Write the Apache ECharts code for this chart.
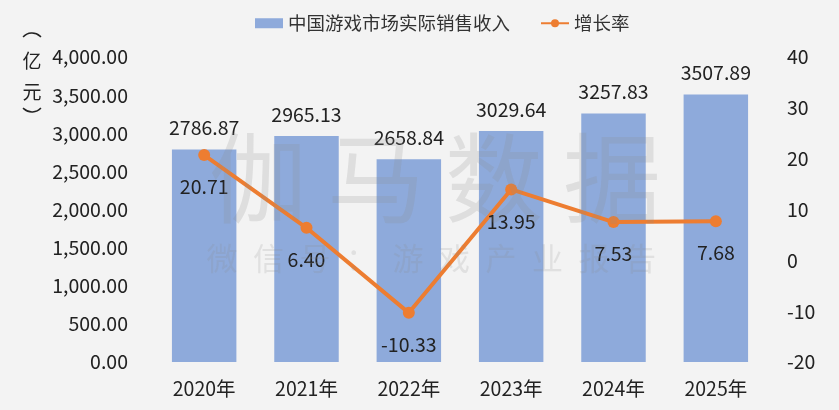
<!DOCTYPE html>
<html><head><meta charset="utf-8">
<script src="https://cdn.jsdelivr.net/npm/echarts@6/dist/echarts.min.js"></script>
<style>html,body{margin:0;padding:0;background:#f3f3f3;}#c{width:839px;height:410px;}</style>
</head><body><div id="c"></div>
<script>
const categories = ['2020年','2021年','2022年','2023年','2024年','2025年'];
const revenue = [2786.87, 2965.13, 2658.84, 3029.64, 3257.83, 3507.89];
const growth = [20.71, 6.40, -10.33, 13.95, 7.53, 7.68];
const leftTicks = {min: 0, max: 4000, interval: 500};
const rightTicks = {min: -20, max: 40, interval: 10};
const FONT = '"Noto Sans CJK SC", "Noto Sans", sans-serif';
const FS = 19.5;

const wmChars = ['伽','马','数','据'];
const wmSmall = ['微','信','号','：','游','戏','产','业','报','告'];

const deg = Math.PI / 180;
const graphics = [
  {type: 'arc', z: 10, shape: {cx: 32, cy: 45, r: 12, startAngle: 222 * deg, endAngle: 318 * deg, clockwise: true},
   style: {stroke: '#222', fill: 'none', lineWidth: 1.6}},
  {type: 'arc', z: 10, shape: {cx: 32, cy: 100, r: 12, startAngle: 42 * deg, endAngle: 138 * deg, clockwise: true},
   style: {stroke: '#222', fill: 'none', lineWidth: 1.6}}
];
[['亿',61],['元',92]].forEach(([t,y]) => graphics.push({
  type: 'text', x: 32, y: y, z: 10,
  style: {text: t, font: '19px ' + FONT, fill: '#222', align: 'center', verticalAlign: 'middle'}
}));
wmChars.forEach((t,i) => graphics.push({
  type: 'text', x: 258 + i * 118, y: 178, z: 100, silent: true,
  style: {text: t, font: '98px ' + FONT, fill: 'rgba(140,140,140,0.2)', align: 'center', verticalAlign: 'middle'}
}));
wmSmall.forEach((t,i) => graphics.push({
  type: 'text', x: 222 + i * 46.5, y: 258, z: 100, silent: true,
  style: {text: t, font: '31px ' + FONT, fill: 'rgba(140,140,140,0.18)', align: 'center', verticalAlign: 'middle'}
}));

const chart = echarts.init(document.getElementById('c'));
chart.setOption({
  backgroundColor: '#f3f3f3',
  textStyle: {fontFamily: FONT},
  legend: {
    top: 9, left: 250, itemGap: 30, itemWidth: 28, itemHeight: 10,
    textStyle: {fontSize: 18.5, color: '#333', fontFamily: FONT},
    data: [{name: '中国游戏市场实际销售收入', icon: 'rect'}, {name: '增长率'}]
  },
  grid: {left: 153, right: 72, top: 57, bottom: 48},
  xAxis: {
    type: 'category', data: categories,
    axisLine: {show: false}, axisTick: {show: false},
    axisLabel: {fontSize: FS, color: '#222', margin: 17, fontFamily: FONT}
  },
  yAxis: [{
    type: 'value', min: leftTicks.min, max: leftTicks.max, interval: leftTicks.interval,
    splitLine: {show: false}, axisLine: {show: false}, axisTick: {show: false},
    axisLabel: {fontSize: FS, color: '#222', margin: 25, fontFamily: FONT,
      formatter: v => v.toLocaleString('en-US', {minimumFractionDigits: 2, maximumFractionDigits: 2})}
  }, {
    type: 'value', min: rightTicks.min, max: rightTicks.max, interval: rightTicks.interval,
    splitLine: {show: false}, axisLine: {show: false}, axisTick: {show: false},
    axisLabel: {fontSize: FS, color: '#222', margin: 20, fontFamily: FONT}
  }],
  series: [{
    name: '中国游戏市场实际销售收入', type: 'bar', data: revenue, barWidth: '63%',
    itemStyle: {color: '#8eaadb'},
    label: {show: true, position: 'top', distance: 12, fontSize: FS, color: '#222', fontFamily: FONT,
      formatter: p => p.value.toFixed(2)}
  }, {
    name: '增长率', type: 'line', yAxisIndex: 1, data: growth,
    itemStyle: {color: '#ed7d31'}, lineStyle: {color: '#ed7d31', width: 4},
    symbol: 'circle', symbolSize: 12,
    label: {show: true, position: 'bottom', distance: 16, fontSize: FS, color: '#222', fontFamily: FONT,
      formatter: p => p.value.toFixed(2)}
  }],
  graphic: graphics
});
</script></body></html>
